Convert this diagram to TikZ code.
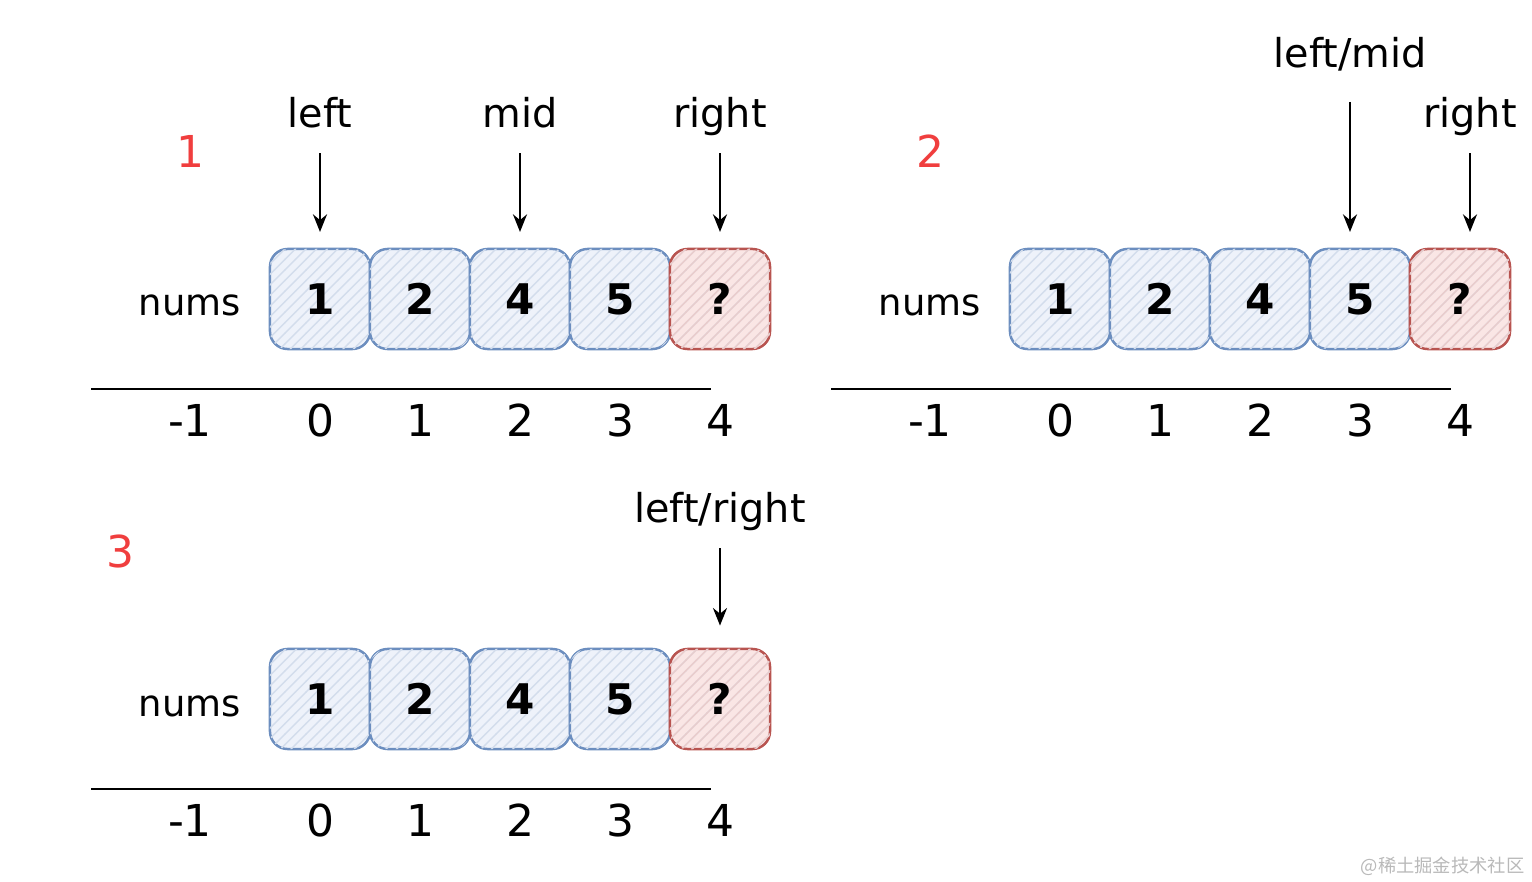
\documentclass[tikz,border=0pt]{standalone}
\usepackage{fontspec}
\setmainfont{DejaVu Sans}
\newfontfamily\cjk{Noto Sans CJK SC}
\usetikzlibrary{positioning,arrows.meta,patterns}

\definecolor{cellblue}{HTML}{6C8EBF}
\definecolor{cellbluefill}{HTML}{EEF2FA}
\definecolor{cellred}{HTML}{B85450}
\definecolor{cellredfill}{HTML}{FAE6E5}
\definecolor{stepred}{HTML}{F03E3E}

\begin{document}
\begin{tikzpicture}[
                x=0.01cm, y=-0.01cm,
                cell/.style={draw=cellblue, fill=cellbluefill, line width=0.7pt,
                             rounded corners=5pt, minimum size=1cm, inner sep=0pt,
                             postaction={pattern=north east lines, pattern color=cellblue!30},
                             font=\fontsize{12}{14}\selectfont\bfseries},
                qcell/.style={cell, draw=cellred, fill=cellredfill,
                              postaction={pattern=north east lines, pattern color=cellred!30}},
                lbl/.style={anchor=base, inner sep=2pt, text depth=3pt,
                            font=\fontsize{11.3}{14}\selectfont},
                idx/.style={anchor=base, font=\fontsize{12.5}{15}\selectfont},
                stepno/.style={anchor=base, text=stepred, font=\fontsize{12.5}{15}\selectfont},
                ptr/.style={-{Stealth[length=5pt,width=4pt]}, line width=0.55pt,
                            shorten <=2pt, shorten >=4.5pt},
                axis/.style={line width=0.6pt}
            ]
                \useasboundingbox (0,0) rectangle (1532,882);

                % the three copies of the array
                \foreach \p/\dx/\dy in {1/0/0, 2/740/0, 3/0/400} {
                    \begin{scope}[shift={(\dx,\dy)}]
                        \node[lbl, font=\fontsize{10.5}{13}\selectfont] (nums\p) at (190,316) {nums};
                        \foreach \v [count=\k] in {1,2,4,5}
                            \node[cell] (c\p-\k) at (220+100*\k,299) {\v};
                        \node[qcell] (c\p-5) at (720,299) {?};
                        \coordinate (axl\p) at (91,389);
                        \coordinate (axr\p) at (711,389);
                        \draw[axis] (axl\p) -- (axr\p);
                        \foreach \t/\xx [count=\k] in {-1/190,0/320,1/420,2/520,3/620,4/720}
                            \node[idx] (i\p-\k) at (\xx,437) {\t};
                    \end{scope}
                }

                % step numbers
                \node[stepno] (s1) at (190,168) {1};
                \node[stepno] (s2) at (930,168) {2};
                \node[stepno] (s3) at (120,568) {3};

                % pointers, step 1
                \node[lbl] (left1) at (320,128) {left};
                \node[lbl] (mid1) at (520,128) {mid};
                \node[lbl] (right1) at (720,128) {right};
                \draw[ptr] (left1) -- (c1-1);
                \draw[ptr] (mid1) -- (c1-3);
                \draw[ptr] (right1) -- (c1-5);

                % pointers, step 2
                \node[lbl] (leftmid2) at (1350,68) {left/mid};
                \node[lbl] (right2) at (1470,128) {right};
                \draw[ptr, shorten <=4.4pt] (leftmid2) -- (leftmid2 |- c2-4.north);
                \draw[ptr] (right2) -- (right2 |- c2-5.north);

                % pointers, step 3
                \node[lbl] (leftright3) at (720,523) {left/right};
                \draw[ptr, shorten >=6.3pt] (leftright3) -- (c3-5);

                \node[anchor=east, inner sep=0pt, text=gray!55, font=\cjk\fontsize{5.2}{6}\selectfont]
                    (mark) at (1525,866) {@稀土掘金技术社区};
            \end{tikzpicture}
\end{document}
